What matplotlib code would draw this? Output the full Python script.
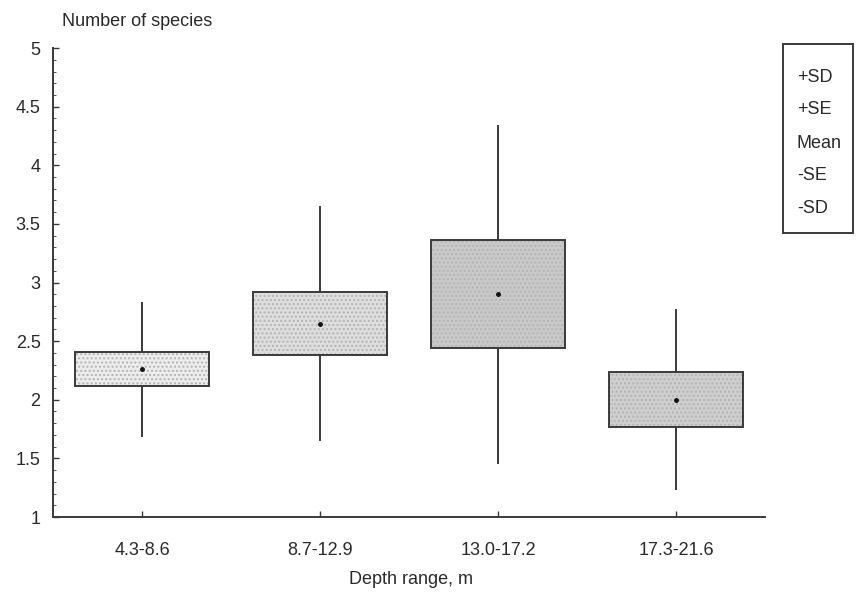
"""Species richness by depth range: mean (dot), +/-SE (box), +/-SD (whiskers)."""
import matplotlib
matplotlib.use("Agg")
import matplotlib.pyplot as plt
from matplotlib.patches import Rectangle
from matplotlib.ticker import MultipleLocator

plt.rcParams["font.family"] = ["Liberation Sans", "DejaVu Sans"]

# values
depth_ranges = ["4.3-8.6", "8.7-12.9", "13.0-17.2", "17.3-21.6"]
mean = [2.26, 2.65, 2.90, 2.00]
se = [0.145, 0.265, 0.46, 0.235]
sd = [0.575, 1.005, 1.445, 0.77]
legend_items = ["+SD", "+SE", "Mean", "-SE", "-SD"]

fills = ["#ededed", "#dedede", "#c9c9c9", "#cfcfcf"]
line_col = "#3a3a3a"
text_col = "#2a2a2a"

fig = plt.figure(figsize=(8.59, 6.13), dpi=100)
ax = fig.add_axes([0.0617, 0.1566, 0.829, 0.765])

x = list(range(len(depth_ranges)))
lo_se = [m - s for m, s in zip(mean, se)]
hi_se = [m + s for m, s in zip(mean, se)]
lo_sd = [m - s for m, s in zip(mean, sd)]
hi_sd = [m + s for m, s in zip(mean, sd)]

# whiskers first so the box sits on top
ax.vlines(x, lo_sd, lo_se, color=line_col, lw=1.4, zorder=1)
ax.vlines(x, hi_se, hi_sd, color=line_col, lw=1.4, zorder=1)

# stippled fill, then the outline
ax.bar(x, [h - l for h, l in zip(hi_se, lo_se)], bottom=lo_se, width=0.75,
       color=fills, edgecolor="#b4b4b4", hatch="....", lw=0, zorder=2)
ax.bar(x, [h - l for h, l in zip(hi_se, lo_se)], bottom=lo_se, width=0.75,
       fill=False, edgecolor=line_col, lw=1.4, zorder=3)
ax.plot(x, mean, "o", color="#111111", ms=2.5, zorder=4)

ax.set_xlim(-0.5, 3.5)
ax.set_ylim(1, 5)
ax.set_xticks(x)
ax.set_xticklabels(depth_ranges)
ax.yaxis.set_major_locator(MultipleLocator(0.5))
ax.yaxis.set_major_formatter(plt.FuncFormatter(lambda v, _: f"{v:g}"))
ax.yaxis.set_minor_locator(MultipleLocator(0.1))
ax.tick_params(axis="both", direction="in", colors=line_col, labelcolor=text_col,
               labelsize=13, width=1, length=4)
ax.tick_params(axis="y", which="minor", direction="in", length=2, color=line_col)
ax.tick_params(axis="x", pad=18)
ax.tick_params(axis="y", pad=9)
for s in ("top", "right"):
    ax.spines[s].set_visible(False)
for s in ("left", "bottom"):
    ax.spines[s].set_color(line_col)
    ax.spines[s].set_linewidth(1.4)

fig.text(0.072, 0.965, "Number of species", fontsize=13, color=text_col,
         ha="left", va="center")
fig.text(0.478, 0.054, "Depth range, m", fontsize=13, color=text_col,
         ha="center", va="center")

# legend box on the right
fig.add_artist(Rectangle((783 / 859, 1 - 233 / 613), 70 / 859, 189 / 613,
                         transform=fig.transFigure, fill=False,
                         edgecolor=line_col, lw=1.4))
for i, lab in enumerate(legend_items):
    fig.text(797 / 859, 1 - (77 + 33 * i) / 613, lab, fontsize=13,
             color=text_col, ha="left", va="center")

fig.savefig("out.png", dpi=100, facecolor="white")
